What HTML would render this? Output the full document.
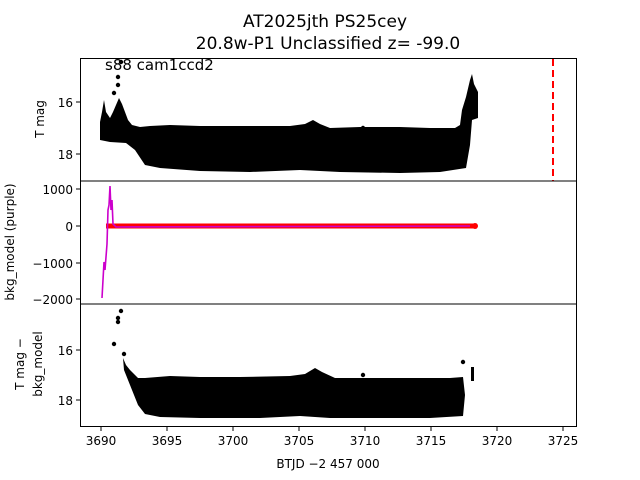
<!DOCTYPE html>
<html><head><style>body{margin:0;background:#fff}svg{display:block;font-family:"DejaVu Sans","Liberation Sans",sans-serif}</style></head><body>
<svg width="640" height="480" viewBox="0 0 640 480">
<text x="325" y="27" font-size="17" text-anchor="middle">AT2025jth  PS25cey</text>
<text x="328" y="49" font-size="17" text-anchor="middle">20.8w-P1 Unclassified z= -99.0</text>
<!-- top panel data -->
<g fill="#000">
<polygon points="100,122 102,112 104,100 106,112 110,118 113,112 116,105 119,98 122,104 125,112 128,120 132,125 140,127 150,126 170,125 200,126 230,126 260,126 290,126 305,124 313,120 320,124 330,128 360,127 400,127 430,128 455,128 460,125 462,110 466,97 470,80 472,74 474,84 478,92 478,118 472,120 470,145 466,168 440,172 400,173 340,172 300,170 250,172 200,171 160,168 145,165 135,150 126,143 110,142 100,140"/>
<circle cx="121" cy="62" r="2.2"/><circle cx="118" cy="77" r="2.2"/><circle cx="118" cy="85" r="2.2"/><circle cx="114" cy="93" r="2.2"/><circle cx="363" cy="128" r="2.2"/>
</g>
<line x1="553" y1="59" x2="553" y2="181" stroke="#f00" stroke-width="2" stroke-dasharray="7,4"/>
<text x="105" y="70" font-size="15">s88 cam1ccd2</text>
<!-- middle panel -->
<line x1="106" y1="226" x2="477" y2="226" stroke="#f00" stroke-width="5"/>
<polyline points="102,298 104,262 105,270 107,244 108,210 109,205 110,186 111,210 112,200 113,224 116,227 470,226" fill="none" stroke="#c0c" stroke-width="1.6"/>
<circle cx="475" cy="226" r="3" fill="#f00"/>
<!-- bottom panel -->
<g fill="#000">
<polygon points="123,358 126,365 130,370 138,378 145,378 170,376 200,377 240,377 290,376 305,374 315,368 322,372 335,378 380,378 420,378 450,378 463,377 465,395 463,416 430,418 380,418 330,418 300,416 260,418 200,418 160,417 145,414 138,405 130,385 124,370"/>
<circle cx="121" cy="311" r="2.2"/><circle cx="118" cy="318" r="2.2"/><circle cx="118" cy="322" r="2.2"/><circle cx="114" cy="344" r="2.2"/><circle cx="124" cy="354" r="2.2"/><circle cx="363" cy="375" r="2.2"/><circle cx="463" cy="362" r="2.2"/>
<rect x="471" y="367" width="3" height="14"/>
</g>
<!-- axes frames -->
<g fill="none" stroke="#000" stroke-width="1">
<rect x="80.5" y="58.5" width="496" height="122.5"/>
<rect x="80.5" y="181" width="496" height="123"/>
<rect x="80.5" y="304" width="496" height="122.5"/>
</g>
<!-- y ticks -->
<g stroke="#000">
<line x1="76" y1="102" x2="80" y2="102"/><line x1="76" y1="154" x2="80" y2="154"/>
<line x1="76" y1="189" x2="80" y2="189"/><line x1="76" y1="226" x2="80" y2="226"/><line x1="76" y1="263" x2="80" y2="263"/><line x1="76" y1="299" x2="80" y2="299"/>
<line x1="76" y1="350" x2="80" y2="350"/><line x1="76" y1="400" x2="80" y2="400"/>
<line x1="101" y1="427" x2="101" y2="431"/><line x1="167" y1="427" x2="167" y2="431"/><line x1="233" y1="427" x2="233" y2="431"/><line x1="299" y1="427" x2="299" y2="431"/><line x1="365" y1="427" x2="365" y2="431"/><line x1="431" y1="427" x2="431" y2="431"/><line x1="497" y1="427" x2="497" y2="431"/><line x1="563" y1="427" x2="563" y2="431"/>
</g>
<g font-size="12" text-anchor="end">
<text x="73" y="107">16</text><text x="73" y="159">18</text>
<text x="73" y="194">1000</text><text x="73" y="231">0</text><text x="73" y="268">−1000</text><text x="73" y="304">−2000</text>
<text x="73" y="355">16</text><text x="73" y="405">18</text>
</g>
<g font-size="12" text-anchor="middle">
<text x="101" y="445">3690</text><text x="167" y="445">3695</text><text x="233" y="445">3700</text><text x="299" y="445">3705</text><text x="365" y="445">3710</text><text x="431" y="445">3715</text><text x="497" y="445">3720</text><text x="563" y="445">3725</text>
<text x="328" y="468">BTJD −2 457 000</text>
</g>
<g font-size="12" text-anchor="middle">
<text transform="translate(44,119) rotate(-90)">T mag</text>
<text transform="translate(14,242) rotate(-90)">bkg_model (purple)</text>
<text transform="translate(24,364) rotate(-90)">T mag −</text>
<text transform="translate(42,364) rotate(-90)">bkg_model</text>
</g>
</svg>
</body></html>
